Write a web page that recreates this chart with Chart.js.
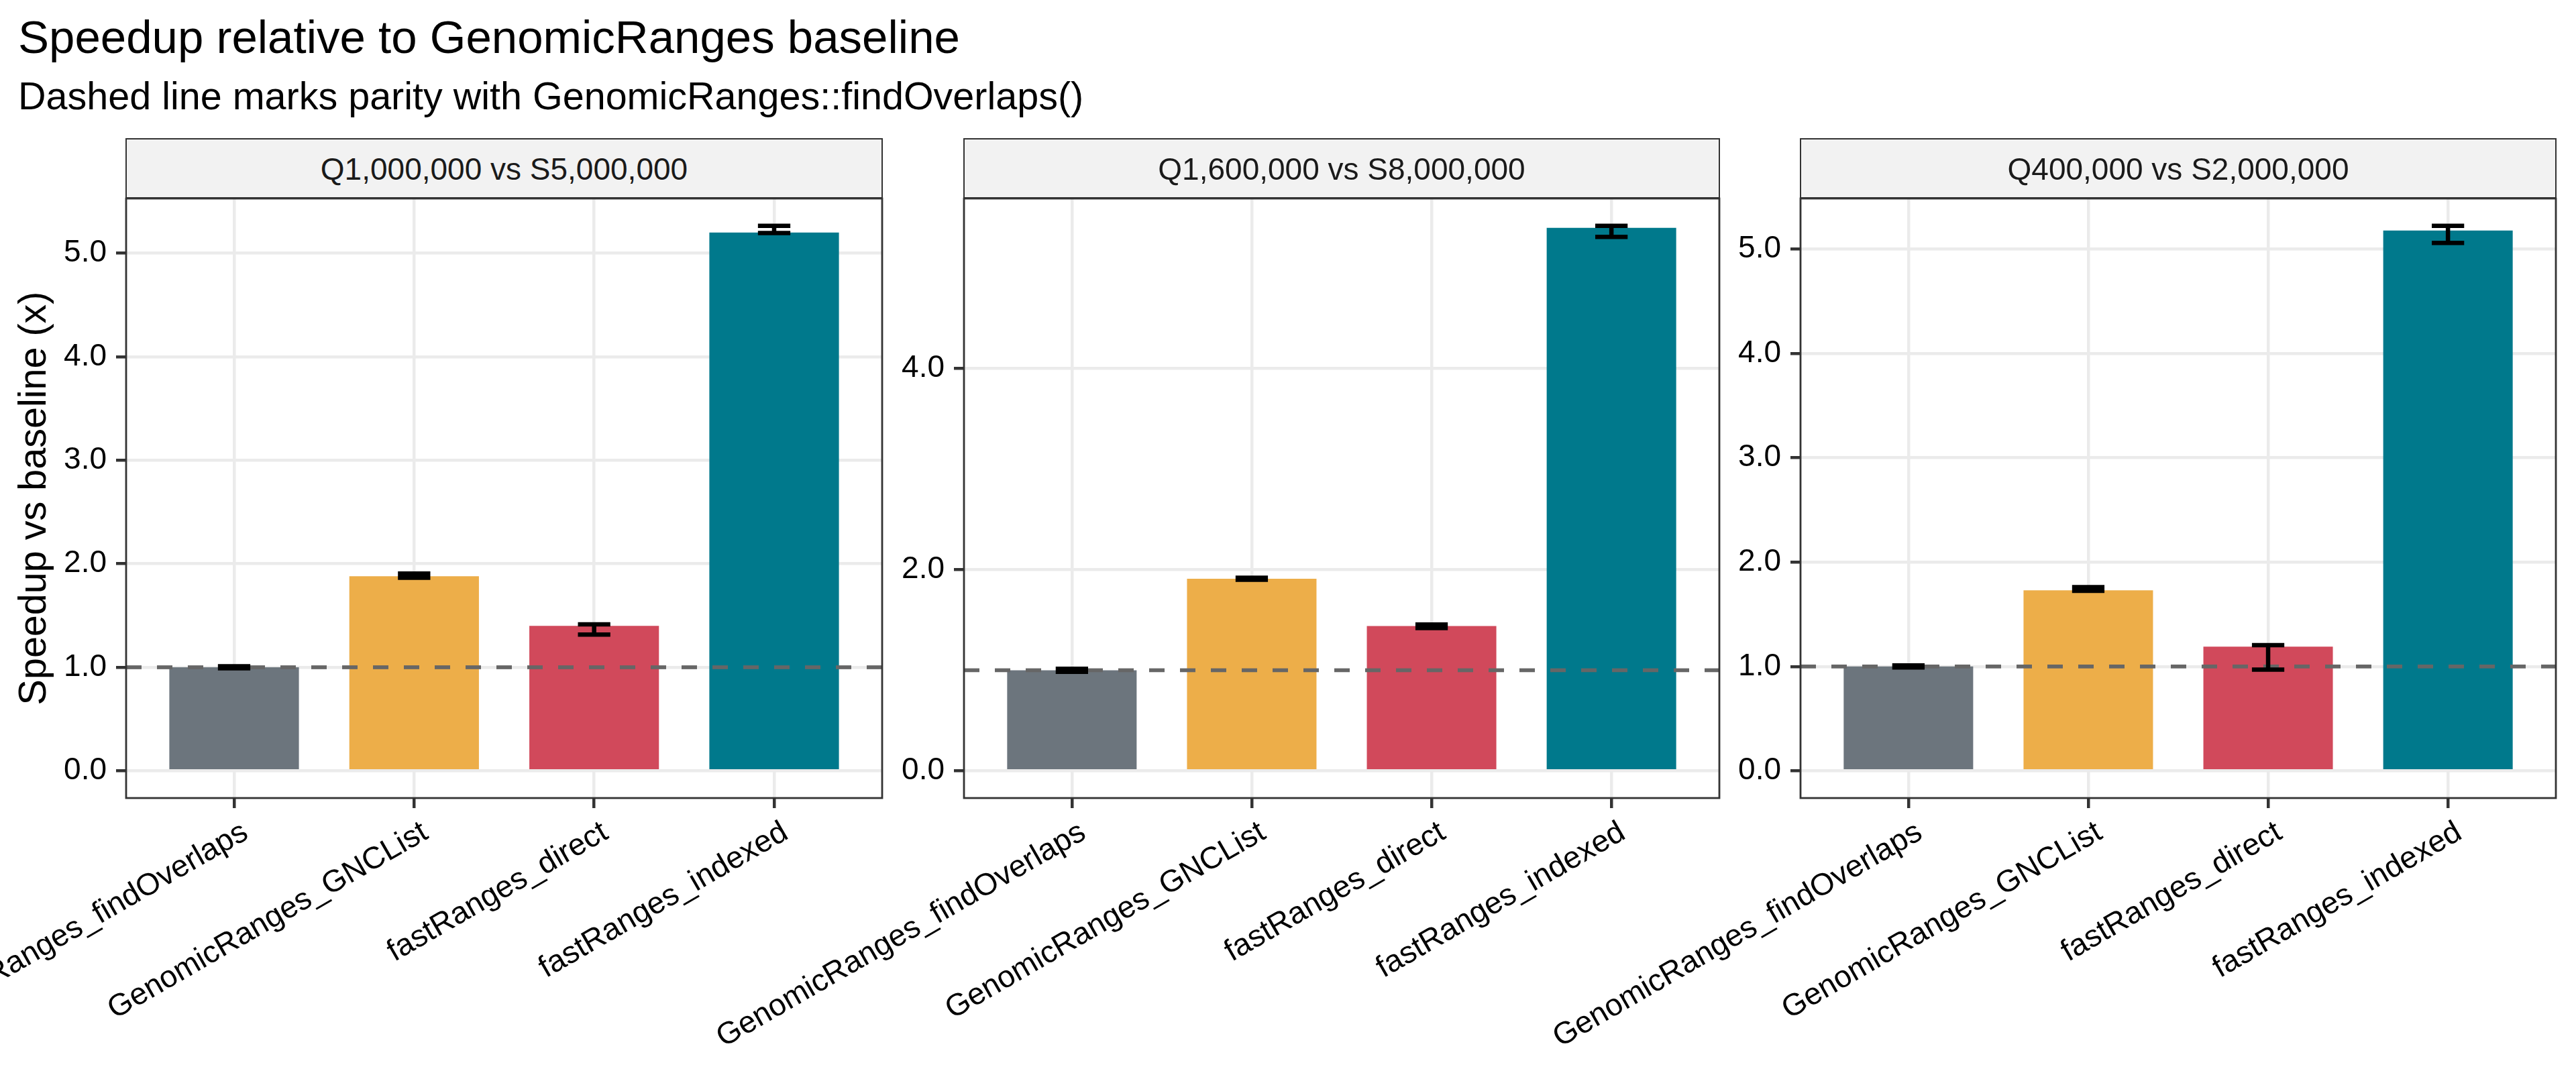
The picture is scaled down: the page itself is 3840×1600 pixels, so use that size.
<!DOCTYPE html>
<html>
<head>
<meta charset="utf-8">
<script src="https://cdn.jsdelivr.net/npm/chart.js@4.4.1/dist/chart.umd.min.js"></script>
<style>
  html, body { margin: 0; padding: 0; background: #ffffff; }
  #wrap { position: relative; width: 3840px; height: 1600px; overflow: hidden; background: #ffffff;
          font-family: "Liberation Sans", Arial, Helvetica, sans-serif; }
  #wrap canvas { position: absolute; left: 0; top: 0; }
  .txt { position: absolute; white-space: nowrap; line-height: 1; color: #000; }
  .strip { position: absolute; box-sizing: border-box; background: #F2F2F2; border: 2.8px solid #333333; }
  .striptext { position: absolute; white-space: nowrap; line-height: 1; color: #1A1A1A; text-align: center; font-size: 46px; }
</style>
</head>
<body>
<div id="wrap">
  <div class="txt" style="left:27px; top:21px; font-size:69px;">Speedup relative to GenomicRanges baseline</div>
  <div class="txt" style="left:27px; top:115px; font-size:57.5px;">Dashed line marks parity with GenomicRanges::findOverlaps()</div>
</div>
<script>
// ---------------- data ----------------
const categories = ["GenomicRanges_findOverlaps", "GenomicRanges_GNCList", "fastRanges_direct", "fastRanges_indexed"];
const facetLabels = ["Q1,000,000 vs S5,000,000", "Q1,600,000 vs S8,000,000", "Q400,000 vs S2,000,000"];

const speedupQ1M = [1.00, 1.88, 1.40, 5.20];
const lowerQ1M   = [0.99, 1.865, 1.315, 5.195];
const upperQ1M   = [1.01, 1.905, 1.415, 5.265];

const speedupQ16M = [1.00, 1.91, 1.44, 5.40];
const lowerQ16M   = [0.985, 1.90, 1.42, 5.31];
const upperQ16M   = [1.015, 1.92, 1.455, 5.42];

const speedupQ400K = [1.00, 1.73, 1.19, 5.18];
const lowerQ400K   = [0.99, 1.725, 0.97, 5.06];
const upperQ400K   = [1.01, 1.76, 1.205, 5.225];

const yTicksQ1M   = [0, 1, 2, 3, 4, 5];
const yTicksQ16M  = [0, 2, 4];
const yTicksQ400K = [0, 1, 2, 3, 4, 5];

const parityValue = 1;
const yAxisTitle = "Speedup vs baseline (x)";

// ---------------- style / layout ----------------
const barColors = ["#6C757D", "#EDAE49", "#D1495B", "#00798C"];
const FONT = "'Liberation Sans', Arial, Helvetica, sans-serif";
const W = 3840, H = 1600;
const PANEL_LEFT = [188, 1437, 2684];
const PANEL_RIGHT = [1315, 2563, 3810];
const PANEL_TOP = 296, PANEL_BOTTOM = 1190, STRIP_TOP = 206;
const CAP = 0.18;

Chart.defaults.font.family = FONT;
Chart.defaults.color = "#000";

const wrap = document.getElementById("wrap");

function makeDecor(lower, upper) {
  return {
    id: "facetDecor",
    afterDatasetsDraw(chart) {
      const { ctx, chartArea: a, scales: { x, y } } = chart;
      // parity dashed line
      ctx.save();
      ctx.beginPath();
      ctx.rect(a.left, a.top, a.right - a.left, a.bottom - a.top);
      ctx.clip();
      ctx.setLineDash([23, 23]);
      ctx.lineWidth = 5.7;
      ctx.strokeStyle = "#666666";
      const yb = y.getPixelForValue(parityValue);
      ctx.beginPath();
      ctx.moveTo(a.left, yb);
      ctx.lineTo(a.right, yb);
      ctx.stroke();
      ctx.restore();
      // error bars
      ctx.save();
      ctx.strokeStyle = "#000";
      ctx.lineWidth = 6.5;
      lower.forEach((lo, i) => {
        const hi = upper[i];
        const xc = x.getPixelForValue(i);
        const hw = (x.getPixelForValue(i + CAP / 2) - x.getPixelForValue(i - CAP / 2)) / 2;
        const yl = y.getPixelForValue(lo), yh = y.getPixelForValue(hi);
        ctx.beginPath();
        ctx.moveTo(xc - hw, yh); ctx.lineTo(xc + hw, yh);
        ctx.moveTo(xc, yh); ctx.lineTo(xc, yl);
        ctx.moveTo(xc - hw, yl); ctx.lineTo(xc + hw, yl);
        ctx.stroke();
      });
      ctx.restore();
      // panel border
      ctx.save();
      ctx.strokeStyle = "#333333";
      ctx.lineWidth = 2.8;
      ctx.strokeRect(a.left, a.top, a.right - a.left, a.bottom - a.top);
      ctx.restore();
    }
  };
}

function makePanel(idx, values, lower, upper, yTicks, showTitle) {
  // strip
  const strip = document.createElement("div");
  strip.className = "strip";
  strip.style.left = (PANEL_LEFT[idx] - 1.4) + "px";
  strip.style.top = STRIP_TOP + "px";
  strip.style.width = (PANEL_RIGHT[idx] - PANEL_LEFT[idx] + 2.8) + "px";
  strip.style.height = (PANEL_TOP - STRIP_TOP) + "px";
  wrap.appendChild(strip);
  const st = document.createElement("div");
  st.className = "striptext";
  st.textContent = facetLabels[idx];
  st.style.left = PANEL_LEFT[idx] + "px";
  st.style.width = (PANEL_RIGHT[idx] - PANEL_LEFT[idx]) + "px";
  st.style.top = "228.5px";
  wrap.appendChild(st);

  const canvas = document.createElement("canvas");
  canvas.width = W; canvas.height = H;
  canvas.style.width = W + "px"; canvas.style.height = H + "px";
  wrap.appendChild(canvas);

  const dMax = Math.max(...upper, ...values);
  const dMin = Math.min(0, ...lower);
  const span = dMax - dMin;
  const yW = showTitle ? PANEL_LEFT[idx] : 150;

  const gridOpts = { color: "#EBEBEB", lineWidth: 4.5, tickColor: "#333333", tickWidth: 4.5, tickLength: 15, offset: false };

  new Chart(canvas, {
    type: "bar",
    data: {
      datasets: [{
        data: values.map((v, i) => ({ x: i, y: v })),
        backgroundColor: barColors,
        borderWidth: 0,
        barPercentage: 0.72,
        categoryPercentage: 1
      }]
    },
    options: {
      responsive: false,
      animation: false,
      devicePixelRatio: 1,
      events: [],
      layout: { padding: { left: PANEL_LEFT[idx] - yW, right: W - PANEL_RIGHT[idx], top: PANEL_TOP, bottom: 0 } },
      plugins: { legend: { display: false }, tooltip: { enabled: false }, title: { display: false } },
      scales: {
        x: {
          type: "linear",
          min: -0.6,
          max: categories.length - 1 + 0.6,
          offset: false,
          afterBuildTicks: s => { s.ticks = categories.map((c, i) => ({ value: i })); },
          afterFit: s => { s.height = H - PANEL_BOTTOM; s.paddingLeft = 0; s.paddingRight = 0; },
          ticks: {
            autoSkip: false, minRotation: 30, maxRotation: 30, padding: 9, labelOffset: 17,
            color: "#000", font: { family: FONT, size: 46 },
            callback: v => categories[v]
          },
          grid: gridOpts,
          border: { display: false }
        },
        y: {
          type: "linear",
          min: dMin - 0.05 * span,
          max: dMax + 0.05 * span,
          afterBuildTicks: s => { s.ticks = yTicks.map(v => ({ value: v })); },
          afterFit: s => { s.width = yW; s.paddingTop = 0; s.paddingBottom = 0; },
          ticks: { padding: 14, color: "#000", font: { family: FONT, size: 46 }, callback: v => Number(v).toFixed(1) },
          grid: gridOpts,
          border: { display: false },
          title: { display: showTitle, text: yAxisTitle, color: "#000", font: { family: FONT, size: 57.5 }, padding: { top: 17.5, bottom: 0 } }
        }
      }
    },
    plugins: [makeDecor(lower, upper)]
  });
}

makePanel(0, speedupQ1M, lowerQ1M, upperQ1M, yTicksQ1M, true);
makePanel(1, speedupQ16M, lowerQ16M, upperQ16M, yTicksQ16M, false);
makePanel(2, speedupQ400K, lowerQ400K, upperQ400K, yTicksQ400K, false);
</script>
</body>
</html>
